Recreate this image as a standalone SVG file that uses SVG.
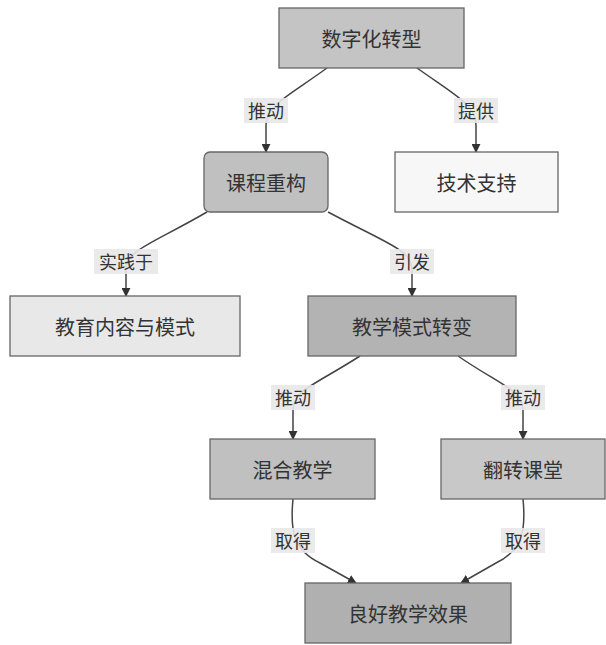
<svg xmlns="http://www.w3.org/2000/svg" width="606" height="645" viewBox="0 0 606 645">
<defs>
<style>
.n{stroke:#666;stroke-width:1.3}
.t{font-family:"Noto Sans CJK SC","Noto Sans",sans-serif;font-size:20px;fill:#333;text-anchor:middle;dominant-baseline:central}
.lb{fill:#e8e8e8;opacity:0.9}
.lt{font-family:"Noto Sans CJK SC","Noto Sans",sans-serif;font-size:18px;fill:#333;text-anchor:middle;dominant-baseline:central}
.e{fill:none;stroke:#444;stroke-width:1.5}
</style>
<marker id="ah" viewBox="0 0 10 10" refX="9" refY="5" markerWidth="9" markerHeight="9" markerUnits="userSpaceOnUse" orient="auto">
<path d="M0,0 L10,5 L0,10 z" fill="#333"/>
</marker>
</defs>
<rect width="606" height="645" fill="#fff"/>
<g id="edges">
<path class="e" marker-end="url(#ah)" d="M327,68 C290,95 266,105 266,125 L266,152"/>
<path class="e" marker-end="url(#ah)" d="M417,68 C455,95 476,105 476,125 L476,152"/>
<path class="e" marker-end="url(#ah)" d="M207,212 C150,245 126,250 126,270 L126,296"/>
<path class="e" marker-end="url(#ah)" d="M328,212 C390,245 412,250 412,270 L412,296"/>
<path class="e" marker-end="url(#ah)" d="M360,356 C315,385 293,390 293,410 L293,439"/>
<path class="e" marker-end="url(#ah)" d="M458,356 C500,385 523,390 523,410 L523,439"/>
<path class="e" marker-end="url(#ah)" d="M293,499 C290,530 293,550 320,563 L356,583"/>
<path class="e" marker-end="url(#ah)" d="M523,499 C526,530 523,550 496,563 L461,583"/>
<rect class="lb" x="244" y="98" width="44" height="25"/><text class="lt" x="266" y="110">推动</text>
<rect class="lb" x="454" y="98" width="44" height="25"/><text class="lt" x="476" y="110">提供</text>
<rect class="lb" x="94" y="249" width="64" height="25"/><text class="lt" x="126" y="261">实践于</text>
<rect class="lb" x="390" y="249" width="44" height="25"/><text class="lt" x="412" y="261">引发</text>
<rect class="lb" x="271" y="385" width="44" height="25"/><text class="lt" x="293" y="397">推动</text>
<rect class="lb" x="501" y="385" width="44" height="25"/><text class="lt" x="523" y="397">推动</text>
<rect class="lb" x="271" y="528" width="44" height="25"/><text class="lt" x="293" y="540">取得</text>
<rect class="lb" x="501" y="528" width="44" height="25"/><text class="lt" x="523" y="540">取得</text>
</g>
<g id="n1"><rect class="n" x="279" y="8" width="185" height="60" fill="#c4c4c4"/><text class="t" x="371.5" y="38">数字化转型</text></g>
<g id="n2"><rect class="n" x="204" y="152" width="124" height="60" rx="6" fill="#c0c0c0"/><text class="t" x="266" y="182">课程重构</text></g>
<g id="n3"><rect class="n" x="395" y="152" width="163" height="60" fill="#f7f7f7"/><text class="t" x="476.5" y="182">技术支持</text></g>
<g id="n4"><rect class="n" x="10" y="296" width="230" height="60" fill="#e8e8e8"/><text class="t" x="125" y="326">教育内容与模式</text></g>
<g id="n5"><rect class="n" x="308" y="296" width="208" height="60" fill="#b3b3b3"/><text class="t" x="412" y="326">教学模式转变</text></g>
<g id="n6"><rect class="n" x="210" y="439" width="165" height="60" fill="#c0c0c0"/><text class="t" x="292.5" y="469">混合教学</text></g>
<g id="n7"><rect class="n" x="441" y="439" width="164" height="60" fill="#c8c8c8"/><text class="t" x="523" y="469">翻转课堂</text></g>
<g id="n8"><rect class="n" x="305" y="583" width="206" height="60" fill="#b0b0b0"/><text class="t" x="408" y="613">良好教学效果</text></g>
</svg>
